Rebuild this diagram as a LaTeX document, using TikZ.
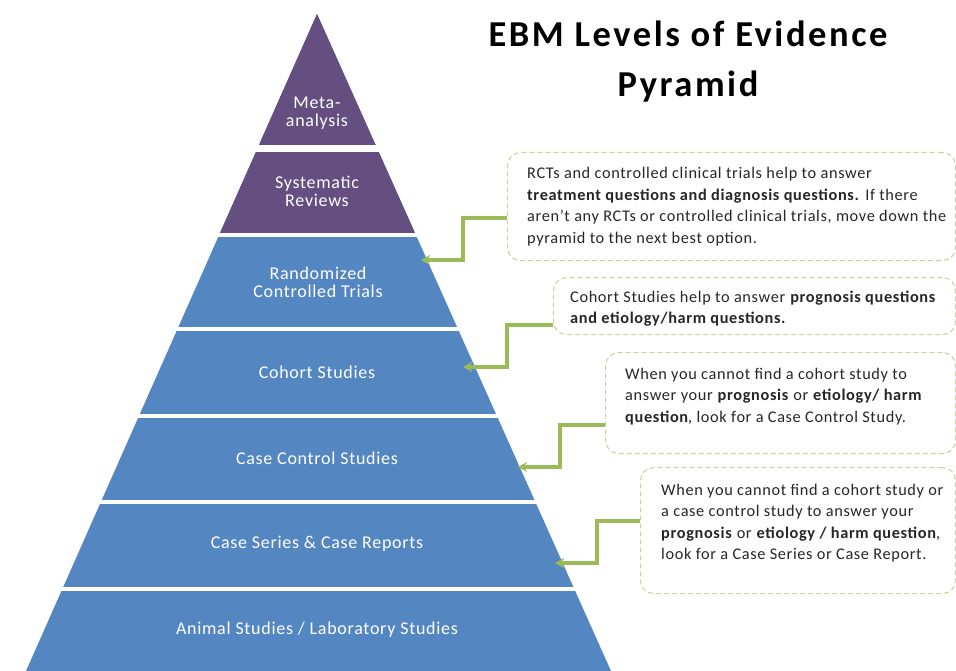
\documentclass[tikz,border=0pt]{standalone}
\usepackage{fontspec}
\setmainfont{Carlito}
\newfontfamily\boxfont[LetterSpace=4]{Carlito}
\newfontfamily\layerfont[LetterSpace=4]{Carlito}
\newfontfamily\titlefont[LetterSpace=7]{Carlito}
\usetikzlibrary{arrows.meta}
\definecolor{pyrpurple}{HTML}{654F80}
\definecolor{pyrblue}{HTML}{5487C1}
\definecolor{conngreen}{HTML}{9BBB59}
\definecolor{boxgreen}{HTML}{C3D69B}
\begin{document}
\begin{tikzpicture}[x=1pt,y=-1pt,
  layertext/.style={text=white,font=\layerfont\fontsize{18}{18}\selectfont,align=center,inner sep=0pt},
  callout/.style={draw=boxgreen,line width=1.1pt,dash pattern=on 5pt off 3pt,rounded corners=13pt,inner sep=0pt,anchor=north west},
  callouttext/.style={font=\boxfont\fontsize{16.3}{21.6}\selectfont,align=left,anchor=north west,inner sep=0pt,text=black!85},
  conn/.style={draw=conngreen,line width=3.3pt,-{Stealth[length=9pt,width=10pt]}},
  title/.style={font=\titlefont\fontsize{36.5}{50}\selectfont\bfseries,align=center,inner sep=0pt}]
\useasboundingbox (0,0) rectangle (956,671);
% pyramid
\fill[pyrblue] (317,14) -- (611,671) -- (26,671) -- cycle;
\begin{scope}
\clip (0,0) rectangle (956,235);
\fill[pyrpurple] (317,14) -- (611,671) -- (26,671) -- cycle;
\end{scope}
\foreach \a/\b in {145.5/151.7,233.3/237,327/331,413.5/417.5,500/504,587/591}
  \fill[white] (0,\a) rectangle (640,\b);
% layer labels
\node[layertext] (meta) at (317,113.5) {Meta-\\analysis};
\node[layertext] (sys) at (317,191.5) {Systematic\\Reviews};
\node[layertext] (rct) at (318,282.5) {Randomized\\Controlled Trials};
\node[layertext] (coh) at (317,372) {Cohort Studies};
\node[layertext] (cc) at (317,458) {Case Control Studies};
\node[layertext] (cs) at (317,544) {Case Series \& Case Reports};
\node[layertext] (an) at (317,630) {Animal Studies / Laboratory Studies};
% title
\node[title] (t) at (688,62) {EBM Levels of Evidence\\Pyramid};
% callout boxes
\node[callout,minimum width=448pt,minimum height=108pt] (b1) at (507,152) {};
\node[callouttext] (x1) at (527,167) {RCTs and controlled clinical trials help to answer\\
\textbf{treatment questions and diagnosis questions.} If there\\
aren’t any RCTs or controlled clinical trials, move down the\\
pyramid to the next best option.};
\node[callout,minimum width=402pt,minimum height=57pt] (b2) at (553,277) {};
\node[callouttext] (x2) at (570,290.5) {Cohort Studies help to answer \textbf{prognosis questions}\\
\textbf{and etiology/harm questions.}};
\node[callout,minimum width=350pt,minimum height=101pt] (b3) at (605,352) {};
\node[callouttext] (x3) at (625,367.5) {When you cannot find a cohort study to\\
answer your \textbf{prognosis} or \textbf{etiology/ harm}\\
\textbf{question}, look for a Case Control Study.};
\node[callout,minimum width=315pt,minimum height=126pt] (b4) at (640,467) {};
\node[callouttext] (x4) at (661,483.5) {When you cannot find a cohort study or\\
a case control study to answer your\\
\textbf{prognosis} or \textbf{etiology / harm question},\\
look for a Case Series or Case Report.};
% connector tips
\coordinate (p1) at (421,260);
\coordinate (p2) at (463,367);
\coordinate (p3) at (518,467);
\coordinate (p4) at (555,563);
\draw[conn] (b1.west |- 0,218) -- (463,218) |- (p1);
\draw[conn] (b2.west |- 0,325) -- (507,325) |- (p2);
\draw[conn] (b3.west |- 0,425) -- (560,425) |- (p3);
\draw[conn] (b4.west |- 0,521) -- (597,521) |- (p4);
\end{tikzpicture}
\end{document}
